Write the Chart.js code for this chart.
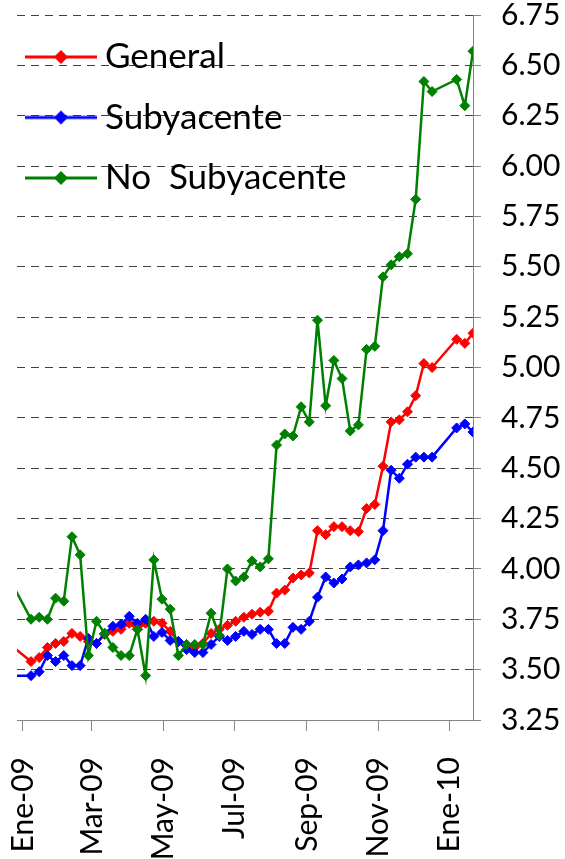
<!DOCTYPE html>
<html>
<head>
<meta charset="utf-8">
<title>Inflación</title>
<script src="https://cdn.jsdelivr.net/npm/chart.js"></script>
<style>
  html, body { margin: 0; padding: 0; background: #fff; }
</style>
</head>
<body>
<canvas id="myChart" width="565" height="859"></canvas>

<script>
// semanas (jueves); faltan las de fin de año
const fechas = [
  '2008-12-18',
  '2009-01-08', '2009-01-15', '2009-01-22', '2009-01-29', '2009-02-05', '2009-02-12', '2009-02-19', '2009-02-26',
  '2009-03-05', '2009-03-12', '2009-03-19', '2009-03-26', '2009-04-02', '2009-04-09', '2009-04-16', '2009-04-23',
  '2009-04-30', '2009-05-07', '2009-05-14', '2009-05-21', '2009-05-28', '2009-06-04', '2009-06-11', '2009-06-18',
  '2009-06-25', '2009-07-02', '2009-07-09', '2009-07-16', '2009-07-23', '2009-07-30', '2009-08-06', '2009-08-13',
  '2009-08-20', '2009-08-27', '2009-09-03', '2009-09-10', '2009-09-17', '2009-09-24', '2009-10-01', '2009-10-08',
  '2009-10-15', '2009-10-22', '2009-10-29', '2009-11-05', '2009-11-12', '2009-11-19', '2009-11-26', '2009-12-03',
  '2009-12-10', '2009-12-17', '2010-01-07', '2010-01-14', '2010-01-21'
];

const general = [
  3.64,
  3.54, 3.56, 3.61, 3.63, 3.64, 3.68, 3.665, 3.64,
  3.63, 3.675, 3.69, 3.70, 3.73, 3.70, 3.73, 3.74,
  3.73, 3.69, 3.64, 3.625, 3.61, 3.63, 3.68, 3.70,
  3.72, 3.74, 3.76, 3.775, 3.785, 3.79, 3.88, 3.895,
  3.955, 3.97, 3.98, 4.19, 4.17, 4.21, 4.21, 4.19,
  4.185, 4.30, 4.32, 4.51, 4.73, 4.74, 4.78, 4.86,
  5.02, 5.00, 5.14, 5.12, 5.17
];

const subyacente = [
  3.47,
  3.47, 3.49, 3.57, 3.54, 3.57, 3.52, 3.52, 3.655,
  3.63, 3.68, 3.715, 3.725, 3.765, 3.73, 3.75, 3.665,
  3.685, 3.645, 3.64, 3.60, 3.585, 3.585, 3.625, 3.665,
  3.645, 3.665, 3.69, 3.675, 3.70, 3.70, 3.63, 3.63,
  3.71, 3.70, 3.74, 3.86, 3.96, 3.93, 3.95, 4.01,
  4.02, 4.03, 4.045, 4.19, 4.49, 4.45, 4.52, 4.555,
  4.555, 4.555, 4.70, 4.72, 4.68
];

const noSubyacente = [
  3.98,
  3.75, 3.76, 3.75, 3.855, 3.84, 4.16, 4.07, 3.57,
  3.74, 3.68, 3.61, 3.57, 3.57, 3.70, 3.47, 4.045,
  3.85, 3.80, 3.57, 3.625, 3.625, 3.625, 3.78, 3.67,
  4.00, 3.94, 3.96, 4.04, 4.01, 4.05, 4.615, 4.67,
  4.66, 4.805, 4.73, 5.235, 4.81, 5.035, 4.945, 4.685,
  4.715, 5.09, 5.105, 5.45, 5.51, 5.55, 5.565, 5.835,
  6.42, 6.37, 6.43, 6.30, 6.57
];

const tickFechas = ['2009-01-01', '2009-03-01', '2009-05-01', '2009-07-01', '2009-09-01', '2009-11-01', '2010-01-01'];
const tickEtiquetas = ['Ene-09', 'Mar-09', 'May-09', 'Jul-09', 'Sep-09', 'Nov-09', 'Ene-10'];

// días desde el 1 de enero de 2009
function dia(f) {
  const p = f.split('-').map(Number);
  return (Date.UTC(p[0], p[1] - 1, p[2]) - Date.UTC(2009, 0, 1)) / 86400000;
}
const tickDias = tickFechas.map(dia);

function serie(valores) {
  return valores.map((v, i) => ({x: dia(fechas[i]), y: v}));
}

// línea con rombo para la leyenda
function marcaLeyenda(color) {
  const c = document.createElement('canvas');
  c.width = 80;
  c.height = 16;
  const g = c.getContext('2d');
  g.strokeStyle = color;
  g.lineWidth = 3;
  g.beginPath();
  g.moveTo(0, 8);
  g.lineTo(72, 8);
  g.stroke();
  g.fillStyle = color;
  g.beginPath();
  g.moveTo(29, 8);
  g.lineTo(36, 1);
  g.lineTo(43, 8);
  g.lineTo(36, 15);
  g.closePath();
  g.fill();
  return c;
}

const colores = ['#ff0000', '#0000ff', '#008000'];
const marcas = colores.map(marcaLeyenda);

function dataset(label, valores, color, orden) {
  return {
    label: label,
    data: serie(valores),
    borderColor: color,
    backgroundColor: color,
    borderWidth: 2.5,
    pointStyle: 'rectRot',
    pointRadius: 5,
    pointBorderWidth: 1,
    pointBackgroundColor: color,
    pointBorderColor: color,
    tension: 0,
    order: orden
  };
}

Chart.defaults.font.family = 'Lato';
Chart.defaults.color = '#000';

const ctx = document.getElementById('myChart');
new Chart(ctx, {
  type: 'line',
  data: {
    datasets: [
      dataset('General', general, colores[0], 3),
      dataset('Subyacente', subyacente, colores[1], 2),
      dataset('No  Subyacente', noSubyacente, colores[2], 1)
    ]
  },
  options: {
    responsive: false,
    animation: false,
    layout: {
      padding: {left: 17, right: 0, top: 15, bottom: 0}
    },
    plugins: {
      tooltip: {enabled: false},
      legend: {
        position: 'chartArea',
        align: 'start',
        title: {
          display: true,
          text: ' ',
          padding: 0,
          font: {size: 14, lineHeight: 1}
        },
        labels: {
          usePointStyle: true,
          pointStyleWidth: 45,
          padding: 25.5,
          color: '#000',
          font: {size: 35},
          sort: (a, b) => a.datasetIndex - b.datasetIndex,
          generateLabels: (chart) => Chart.defaults.plugins.legend.labels.generateLabels(chart)
            .map(l => Object.assign(l, {pointStyle: marcas[l.datasetIndex]}))
        }
      }
    },
    scales: {
      x: {
        type: 'linear',
        min: -5,
        max: 385,
        afterBuildTicks: (axis) => {
          axis.ticks = tickDias.map(v => ({value: v}));
        },
        afterFit: (scale) => {
          scale.height = 139;
          scale.paddingLeft = 0;
          scale.paddingRight = 0;
        },
        ticks: {
          autoSkip: false,
          minRotation: 90,
          maxRotation: 90,
          padding: 26,
          font: {size: 30, lineHeight: 1},
          callback: (value) => tickEtiquetas[tickDias.indexOf(value)]
        },
        grid: {
          drawOnChartArea: false,
          drawTicks: true,
          tickLength: 11,
          color: '#868686',
          tickColor: '#868686'
        },
        border: {color: '#868686', width: 1}
      },
      y: {
        position: 'right',
        min: 3.25,
        max: 6.75,
        afterFit: (scale) => {
          scale.width = 92;
          scale.paddingTop = 0;
          scale.paddingBottom = 0;
        },
        ticks: {
          stepSize: 0.25,
          padding: 20,
          font: {size: 30, lineHeight: 1},
          callback: (v) => v.toFixed(2)
        },
        grid: {
          color: '#404040',
          lineWidth: 1,
          tickLength: 8,
          tickColor: '#868686',
          tickBorderDash: []
        },
        border: {color: '#868686', width: 1, dash: [8, 6]}
      }
    }
  }
});
</script>
</body>
</html>
